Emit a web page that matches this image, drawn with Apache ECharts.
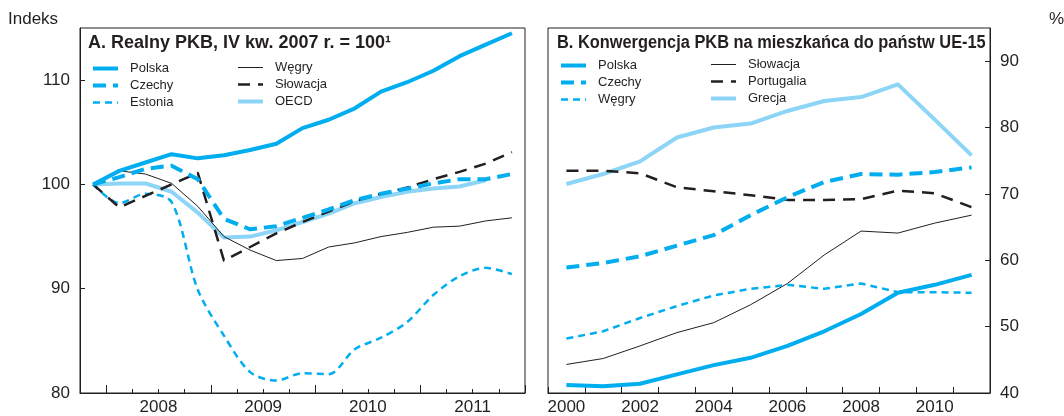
<!DOCTYPE html>
<html lang="pl">
<head>
<meta charset="utf-8">
<title>Realny PKB i konwergencja</title>
<script src="https://cdn.jsdelivr.net/npm/echarts@6/dist/echarts.min.js"></script>
<style>
  html, body { margin: 0; padding: 0; background: #ffffff; }
  #chart { width: 1064px; height: 416px; }
</style>
</head>
<body>
<div id="chart"></div>
<script>
// ---- Panel A: real GDP, 2007 Q4 = 100 (quarterly) ----
const quarters = [
  '2007 Q4',
  '2008 Q1', '2008 Q2', '2008 Q3', '2008 Q4',
  '2009 Q1', '2009 Q2', '2009 Q3', '2009 Q4',
  '2010 Q1', '2010 Q2', '2010 Q3', '2010 Q4',
  '2011 Q1', '2011 Q2', '2011 Q3', '2011 Q4'
];
const polskaA   = [100, 101.3, 102.1, 102.9, 102.5, 102.8, 103.3, 103.9, 105.4, 106.2, 107.3, 108.9, 109.8, 110.9, 112.3, 113.4, 114.5];
const czechyA   = [100, 100.7, 101.5, 101.8, 100.5, 96.7, 95.7, 96.0, 96.8, 97.6, 98.5, 99.1, 99.6, 100.1, 100.5, 100.5, 101.0];
const estoniaA  = [100, 98.2, 99.1, 98.3, 89.9, 85.5, 82.0, 81.2, 81.9, 81.8, 84.2, 85.3, 86.8, 89.4, 91.2, 92.0, 91.4];
const wegryA    = [100, 101.3, 101.0, 100.1, 97.9, 95.0, 93.7, 92.7, 92.9, 94.0, 94.4, 95.0, 95.4, 95.9, 96.0, 96.5, 96.8];
const slowacjaA = [100, 97.8, 98.9, 100.0, 101.1, 92.7, 94.0, 95.3, 96.4, 97.4, 98.4, 99.1, 99.7, 100.5, 101.2, 102.0, 103.1];
const oecdA     = [100, 100.1, 100.1, 99.3, 97.3, 94.9, 95.0, 95.6, 96.4, 97.2, 98.2, 98.8, 99.3, 99.6, 99.8, 100.4, null];

// ---- Panel B: GDP per capita relative to EU-15, % (annual) ----
const years = ['2000', '2001', '2002', '2003', '2004', '2005', '2006', '2007', '2008', '2009', '2010', '2011'];
const polskaB     = [41.2, 41.0, 41.4, 42.8, 44.2, 45.3, 47.1, 49.3, 51.9, 55.1, 56.3, 57.8];
const czechyB     = [58.9, 59.6, 60.6, 62.2, 63.8, 66.8, 69.5, 71.8, 73.0, 72.9, 73.3, 74.0];
const wegryB      = [48.2, 49.3, 51.3, 53.1, 54.7, 55.7, 56.3, 55.7, 56.5, 55.2, 55.2, 55.1];
const slowacjaB   = [44.3, 45.2, 47.1, 49.1, 50.6, 53.3, 56.5, 60.8, 64.4, 64.1, 65.6, 66.8];
const portugaliaB = [73.5, 73.5, 73.1, 71.0, 70.4, 69.8, 69.1, 69.1, 69.2, 70.5, 70.1, 68.0];
const grecjaB     = [71.5, 73.0, 74.9, 78.5, 80.0, 80.6, 82.5, 84.0, 84.6, 86.5, 81.2, 75.8];

// Axis tick values
const yTicksA = { min: 80, max: 115, interval: 10 };
const yTicksB = { min: 40, max: 95, interval: 10 };

// ---- Styling ----
const FONT = '"Liberation Sans", Arial, Helvetica, sans-serif';
const INK = '#231f20';
const BLUE = '#00aeef';
const LIGHT = '#8dd5f6';

const chart = echarts.init(document.getElementById('chart'), null, { renderer: 'canvas' });

// Series names carry a panel suffix so the two legends stay independent;
// the legend formatter strips it.
const stripPanel = name => name.replace(/ \([AB]\)$/, '');

function lineSeries(name, data, xi, yi, color, width, dash, extra) {
  return Object.assign({
    name: name,
    type: 'line',
    xAxisIndex: xi,
    yAxisIndex: yi,
    data: data,
    symbol: 'none',
    silent: true,
    connectNulls: false,
    color: color,
    itemStyle: { color: color },
    lineStyle: { color: color, width: width, type: dash || 'solid', cap: 'butt', join: 'round' },
    emphasis: { disabled: true }
  }, extra || {});
}

const series = [
  // Panel A
  lineSeries('OECD (A)', oecdA, 0, 0, LIGHT, 4),
  lineSeries('Węgry (A)', wegryA, 0, 0, INK, 1),
  lineSeries('Estonia (A)', estoniaA, 0, 0, BLUE, 2.5, [7, 5], { smooth: 0.3 }),
  lineSeries('Słowacja (A)', slowacjaA, 0, 0, INK, 2.5, [12, 8]),
  lineSeries('Czechy (A)', czechyA, 0, 0, BLUE, 4, [13, 7]),
  lineSeries('Polska (A)', polskaA, 0, 0, BLUE, 4),
  // Panel B
  lineSeries('Grecja (B)', grecjaB, 2, 1, LIGHT, 4),
  lineSeries('Słowacja (B)', slowacjaB, 2, 1, INK, 1),
  lineSeries('Portugalia (B)', portugaliaB, 2, 1, INK, 2.5, [12, 8]),
  lineSeries('Węgry (B)', wegryB, 2, 1, BLUE, 2.5, [7, 5]),
  lineSeries('Czechy (B)', czechyB, 2, 1, BLUE, 4, [13, 7]),
  lineSeries('Polska (B)', polskaB, 2, 1, BLUE, 4)
];

// Legend entries reuse each series' own line width, colour and dash
function legendItem(name) {
  const s = series.find(x => x.name === name);
  return { name: name, lineStyle: { width: s.lineStyle.width, color: s.lineStyle.color, type: s.lineStyle.type } };
}

const axisText = { color: INK, fontSize: 17, fontFamily: FONT };
const inkLine = { color: INK, width: 1 };

function legendColumn(names, left, top) {
  return {
    data: names.map(legendItem),
    orient: 'vertical',
    left: left,
    top: top,
    padding: 0,
    itemWidth: 25,
    itemHeight: 14,
    itemGap: 4,
    selectedMode: false,
    formatter: stripPanel,
    // only the line sample is wanted, not the marker in its middle
    itemStyle: { opacity: 0 },
    textStyle: { color: INK, fontSize: 13, fontFamily: FONT, padding: [0, 0, 0, 7] }
  };
}

const option = {
  animation: false,
  backgroundColor: '#ffffff',
  textStyle: { fontFamily: FONT },
  grid: [
    { left: 80, top: 28, width: 445, height: 366, show: true, borderColor: INK, borderWidth: 1, backgroundColor: 'transparent' },
    { left: 548, top: 28, width: 442, height: 366, show: true, borderColor: INK, borderWidth: 1, backgroundColor: 'transparent' }
  ],
  graphic: [
    { type: 'text', left: 8, top: 11, style: { text: 'Indeks', fill: INK, font: '17px ' + FONT } },
    { type: 'text', left: 1049, top: 11, style: { text: '%', fill: INK, font: '17px ' + FONT } },
    { type: 'text', x: 88, y: 43, style: { text: 'A. Realny PKB, IV kw. 2007 r. = 100\u00b9', fill: INK, font: 'bold 18px ' + FONT, textVerticalAlign: 'middle' } },
    { type: 'text', x: 557, y: 43, scaleX: 0.91, style: { text: 'B. Konwergencja PKB na mieszkańca do państw UE-15', fill: INK, font: 'bold 18px ' + FONT, textVerticalAlign: 'middle' } }
  ],
  legend: [
    legendColumn(['Polska (A)', 'Czechy (A)', 'Estonia (A)'], 91, 62),
    legendColumn(['Węgry (A)', 'Słowacja (A)', 'OECD (A)'], 236, 61),
    legendColumn(['Polska (B)', 'Czechy (B)', 'Węgry (B)'], 559, 59),
    legendColumn(['Słowacja (B)', 'Portugalia (B)', 'Grecja (B)'], 709, 58)
  ],
  xAxis: [
    {
      // quarters: short ticks on every quarter boundary, year labels centred on each year
      type: 'category', gridIndex: 0, data: quarters, boundaryGap: true,
      axisLine: { show: true, lineStyle: inkLine },
      axisTick: { show: true, inside: true, length: 4, interval: 0, lineStyle: inkLine },
      axisLabel: Object.assign({
        interval: (i, v) => v.endsWith('Q2'),
        formatter: v => v.slice(0, 4),
        padding: [0, 0, 0, 26],
        margin: 6
      }, axisText),
      splitLine: { show: false }
    },
    {
      // year boundaries: longer ticks
      type: 'category', gridIndex: 0, data: quarters, boundaryGap: true, position: 'bottom',
      axisLine: { show: false },
      axisTick: { show: true, inside: true, length: 8, interval: (i, v) => v.endsWith('Q1'), lineStyle: inkLine },
      axisLabel: { show: false },
      splitLine: { show: false }
    },
    {
      type: 'category', gridIndex: 1, data: years, boundaryGap: true,
      axisLine: { show: true, lineStyle: inkLine },
      axisTick: { show: true, inside: true, length: 6, interval: 0, lineStyle: inkLine },
      axisLabel: Object.assign({ interval: 1, margin: 6 }, axisText),
      splitLine: { show: false }
    }
  ],
  yAxis: [
    {
      type: 'value', gridIndex: 0, position: 'left',
      min: yTicksA.min, max: yTicksA.max, interval: yTicksA.interval,
      axisLine: { show: true, lineStyle: inkLine },
      axisTick: { show: true, inside: true, length: 5, lineStyle: inkLine },
      axisLabel: Object.assign({ margin: 10, showMaxLabel: false }, axisText),
      splitLine: { show: false }
    },
    {
      type: 'value', gridIndex: 1, position: 'right',
      min: yTicksB.min, max: yTicksB.max, interval: yTicksB.interval,
      axisLine: { show: true, lineStyle: inkLine },
      axisTick: { show: true, inside: true, length: 5, lineStyle: inkLine },
      axisLabel: Object.assign({ margin: 10, showMaxLabel: false }, axisText),
      splitLine: { show: false }
    }
  ],
  series: series
};

chart.setOption(option);
</script>
</body>
</html>
